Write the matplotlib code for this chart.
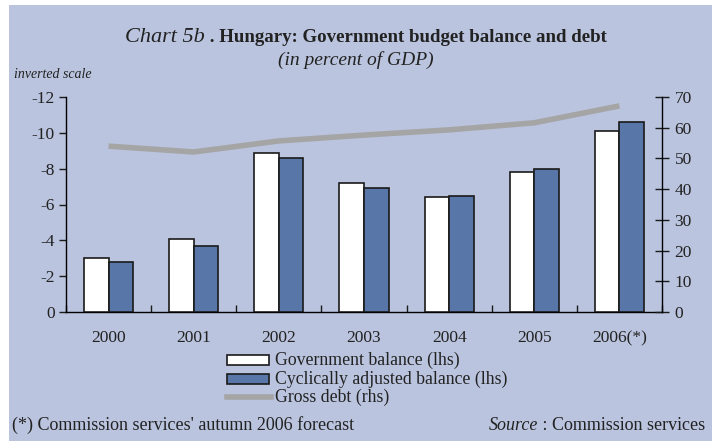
import matplotlib
matplotlib.use("Agg")
import matplotlib.pyplot as plt
import numpy as np
from matplotlib.patches import Rectangle

years = ["2000", "2001", "2002", "2003", "2004", "2005", "2006(*)"]
gov_balance = [-3.0, -4.1, -8.9, -7.2, -6.4, -7.8, -10.1]
cyc_balance = [-2.8, -3.7, -8.6, -6.9, -6.5, -8.0, -10.6]
gross_debt = [54.0, 52.1, 55.7, 57.6, 59.3, 61.6, 67.1]
left_ticks = [0, -2, -4, -6, -8, -10, -12]
right_ticks = [0, 10, 20, 30, 40, 50, 60, 70]

W, H = 712, 441
bg = "#BAC4DE"
blue = "#5877A8"
grey = "#A5A5A5"
txt = "#222222"

plt.rcParams['font.family'] = ['Liberation Serif', 'DejaVu Serif']

fig = plt.figure(figsize=(W / 100, H / 100), dpi=100)
fig.patch.set_facecolor("white")
fig.patches.append(Rectangle((9 / W, 0), 1 - 9 / W, 1 - 5 / H, transform=fig.transFigure,
                             facecolor=bg, edgecolor="none", zorder=-10))

x0, x1 = 66, 662
y0, y1 = 312, 97
ax = fig.add_axes([x0 / W, 1 - y0 / H, (x1 - x0) / W, (y0 - y1) / H])
ax.set_facecolor("none")

n = len(years)
x = np.arange(n)
bw = 0.288
ax.bar(x - bw / 2, gov_balance, width=bw, color="white", edgecolor="#1a1a1a", linewidth=1.2, zorder=3)
ax.bar(x + bw / 2, cyc_balance, width=bw, color=blue, edgecolor="#1a1a1a", linewidth=1.2, zorder=3)
ax.set_xlim(-0.5, n - 0.5)
ax.set_ylim(0, -12)
ax.set_yticks(left_ticks)
ax.set_yticklabels([str(t) for t in left_ticks], fontsize=12.5, color=txt)
ax.set_xticks(x)
ax.set_xticklabels(years, fontsize=12.5, color=txt)
ax.tick_params(axis='x', length=0, pad=13)
ax.set_xticks(np.arange(n + 1) - 0.5, minor=True)
ax.tick_params(axis='x', which='minor', direction='in', length=5, width=1, color="#1a1a1a")
ax.tick_params(axis='y', direction='out', length=5, width=1, color="#1a1a1a", pad=3)
for s in ["top", "right"]:
    ax.spines[s].set_visible(False)
ax.spines["left"].set_linewidth(1.0)
ax.spines["bottom"].set_linewidth(1.0)

ax2 = ax.twinx()
ax2.plot(x, gross_debt, color=grey, linewidth=4, solid_capstyle="butt", zorder=2)
ax2.set_ylim(0, 70)
ax2.set_yticks(right_ticks)
ax2.set_yticklabels([str(t) for t in right_ticks], fontsize=12.5, color=txt)
ax2.tick_params(axis='y', direction='inout', length=10, width=1, color="#1a1a1a", pad=4)
for s in ["top", "left", "bottom"]:
    ax2.spines[s].set_visible(False)
ax2.spines["right"].set_linewidth(1.0)

# titles
fig.text(205 / W, 1 - 37 / H, "Chart 5b", style="italic", fontsize=16, ha="right", va="center", color=txt)
fig.text(205 / W, 1 - 37 / H, " . Hungary: Government budget balance and debt", fontweight="bold",
         fontsize=13.6, ha="left", va="center", color=txt)
fig.text(356 / W, 1 - 60 / H, "(in percent of GDP)", style="italic", fontsize=14, ha="center", va="center", color=txt)
fig.text(14 / W, 1 - 75 / H, "inverted scale", style="italic", fontsize=10, ha="left", va="center", color=txt)

# legend
lx = 227
items = [(360, "Government balance (lhs)", "white"), (379, "Cyclically adjusted balance (lhs)", blue)]
for yy, label, col in items:
    fig.patches.append(Rectangle((lx / W, 1 - (yy + 5) / H), 42 / W, 10 / H, transform=fig.transFigure,
                                 facecolor=col, edgecolor="#1a1a1a", linewidth=1.2))
    fig.text((lx + 48) / W, 1 - yy / H, label, fontsize=12.8, ha="left", va="center", color=txt)
fig.lines.append(plt.Line2D([lx / W, (lx + 44) / W], [1 - 397 / H, 1 - 397 / H], transform=fig.transFigure,
                            color=grey, linewidth=4))
fig.text((lx + 48) / W, 1 - 397 / H, "Gross debt (rhs)", fontsize=12.8, ha="left", va="center", color=txt)

# footnotes
fig.text(12 / W, 1 - 425 / H, "(*) Commission services' autumn 2006 forecast", fontsize=13,
         ha="left", va="center", color=txt)
fig.text(705 / W, 1 - 425 / H, " : Commission services", fontsize=13, ha="right", va="center", color=txt)
fig.text(538 / W, 1 - 425 / H, "Source", style="italic", fontsize=13, ha="right", va="center", color=txt)

fig.savefig("out.png", dpi=100, facecolor=fig.get_facecolor())
